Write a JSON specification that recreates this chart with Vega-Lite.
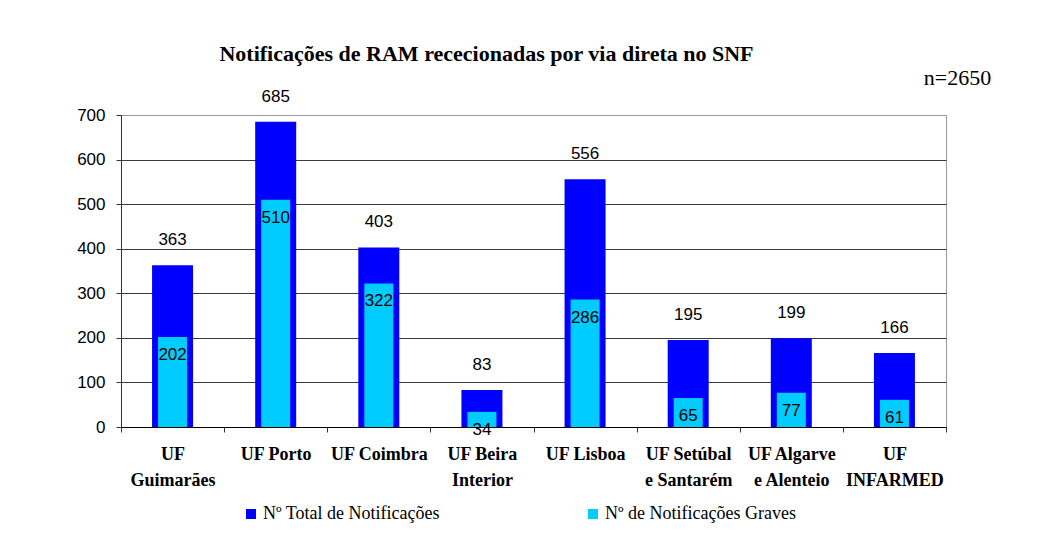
{
  "$schema": "https://vega.github.io/schema/vega-lite/v6.json",
  "autosize": {"type": "none"},
  "width": 825,
  "height": 312,
  "padding": {"left": 121, "top": 115, "right": 92, "bottom": 112},
  "background": "white",
  "title": {
    "text": "Notificações de RAM rececionadas por via direta no SNF",
    "font": "Liberation Serif",
    "fontSize": 22,
    "fontWeight": "bold",
    "color": "#000000",
    "anchor": "middle",
    "dx": -47,
    "offset": 1
  },
  "config": {
    "view": {"stroke": "#999999", "strokeWidth": 1},
    "axis": {"labelColor": "#000000", "domainColor": "#333333", "tickColor": "#333333"}
  },
  "data": {
    "values": [
      {"uf": "UF Guimarães", "total": 363, "graves": 202},
      {"uf": "UF Porto", "total": 685, "graves": 510},
      {"uf": "UF Coimbra", "total": 403, "graves": 322},
      {"uf": "UF Beira Interior", "total": 83, "graves": 34},
      {"uf": "UF Lisboa", "total": 556, "graves": 286},
      {"uf": "UF Setúbal e Santarém", "total": 195, "graves": 65},
      {"uf": "UF Algarve e Alenteio", "total": 199, "graves": 77},
      {"uf": "UF INFARMED", "total": 166, "graves": 61}
    ]
  },
  "encoding": {
    "x": {
      "field": "uf",
      "type": "nominal",
      "sort": null,
      "scale": {"paddingInner": 0, "paddingOuter": 0},
      "axis": {
        "title": null,
        "labelAngle": 0,
        "tickBand": "extent",
        "tickSize": 5,
        "labelPadding": 13,
        "labelFont": "Liberation Serif",
        "labelFontSize": 18,
        "labelFontWeight": "bold",
        "labelLineHeight": 26,
        "labelLimit": 200,
        "domainColor": "#000000",
        "labelExpr": "datum.label == 'UF Guimarães' ? ['UF','Guimarães'] : datum.label == 'UF Beira Interior' ? ['UF Beira','Interior'] : datum.label == 'UF Setúbal e Santarém' ? ['UF Setúbal','e Santarém'] : datum.label == 'UF Algarve e Alenteio' ? ['UF Algarve','e Alenteio'] : datum.label == 'UF INFARMED' ? ['UF','INFARMED'] : datum.label"
      }
    }
  },
  "layer": [
    {
      "mark": {"type": "bar", "size": 41},
      "encoding": {
        "y": {
          "field": "total",
          "type": "quantitative",
          "scale": {"domain": [0, 700], "nice": false},
          "axis": {
            "title": null,
            "values": [0, 100, 200, 300, 400, 500, 600, 700],
            "tickSize": 5,
            "labelPadding": 11,
            "labelFont": "Liberation Sans",
            "labelFontSize": 17,
            "domainColor": "#333333",
            "grid": true,
            "gridColor": {"condition": {"test": "datum.value == 700", "value": "#999999"}, "value": "#3a3a3a"},
            "gridWidth": 1
          }
        },
        "color": {
          "datum": "Nº Total de Notificações",
          "type": "nominal",
          "scale": {
            "domain": ["Nº Total de Notificações", "Nº de Notificações Graves"],
            "range": ["#0000FF", "#00CCFF"]
          },
          "legend": {
            "title": null,
            "orient": "none",
            "legendX": 121,
            "legendY": 390,
            "direction": "horizontal",
            "symbolType": "square",
            "symbolSize": 100,
            "symbolStrokeWidth": 0,
            "symbolOpacity": 1,
            "labelFont": "Liberation Serif",
            "labelFontSize": 18,
            "labelColor": "#000000",
            "labelOffset": 3,
            "columnPadding": 144,
            "labelLimit": 300
          }
        }
      }
    },
    {
      "mark": {"type": "bar", "size": 29},
      "encoding": {
        "y": {"field": "graves", "type": "quantitative"},
        "color": {"datum": "Nº de Notificações Graves", "type": "nominal"}
      }
    },
    {
      "mark": {"type": "text", "baseline": "middle", "dy": -25, "font": "Liberation Sans", "fontSize": 17, "color": "#000000"},
      "encoding": {
        "y": {"field": "total", "type": "quantitative"},
        "text": {"field": "total", "type": "quantitative"}
      }
    },
    {
      "mark": {"type": "text", "baseline": "middle", "dy": 18, "font": "Liberation Sans", "fontSize": 17, "color": "#000000"},
      "encoding": {
        "y": {"field": "graves", "type": "quantitative"},
        "text": {"field": "graves", "type": "quantitative"}
      }
    },
    {
      "data": {"values": [{"uf": "UF INFARMED", "nota": "n=2650", "ypos": 783}]},
      "mark": {"type": "text", "baseline": "middle", "align": "center", "dx": 63, "font": "Liberation Serif", "fontSize": 22, "fontWeight": "normal", "color": "#000000"},
      "encoding": {
        "y": {"field": "ypos", "type": "quantitative"},
        "text": {"field": "nota"}
      }
    }
  ]
}
